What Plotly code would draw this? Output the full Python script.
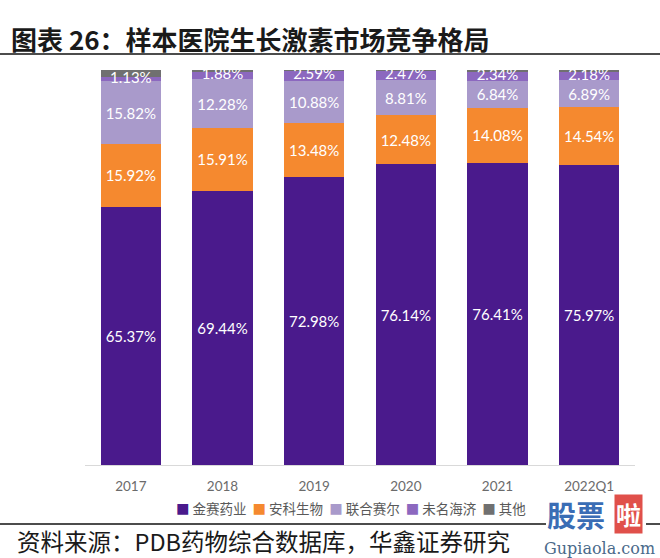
import plotly.graph_objects as go

years = ["2017", "2018", "2019", "2020", "2021", "2022Q1"]
jinsai = [65.37, 69.44, 72.98, 76.14, 76.41, 75.97]
anke = [15.92, 15.91, 13.48, 12.48, 14.08, 14.54]
lianhe = [15.82, 12.28, 10.88, 8.81, 6.84, 6.89]
weiming = [1.13, 1.88, 2.59, 2.47, 2.34, 2.18]
qita = [1.76, 0.49, 0.07, 0.10, 0.33, 0.42]

series = [
    ("金赛药业", jinsai, "#4A1A8C", True),
    ("安科生物", anke, "#F5892F", True),
    ("联合赛尔", lianhe, "#A99ACB", True),
    ("未名海济", weiming, "#8C68BF", False),
    ("其他", qita, "#707070", False),
]

L, R, T, B = 85, 25, 70, 93
W, H = 660, 558
PW, PH = W - L - R, H - T - B


def px(x):
    return (x - L) / PW


def py(y):
    return (H - B - y) / PH


label_font = dict(color="white", size=15, family="Lato, Open Sans, sans-serif")

fig = go.Figure()
for name, vals, color, show_text in series:
    fig.add_trace(go.Bar(
        name=name, x=years, y=vals, marker=dict(color=color, line=dict(width=0)),
        text=[f"{v:.2f}%" for v in vals] if show_text else None,
        textposition="inside" if show_text else "none",
        insidetextanchor="middle",
        constraintext="none",
        textangle=0,
        textfont=label_font,
        hoverinfo="skip",
    ))

# Labels of the thin 未名海济 segments, drawn on top of everything
wm_mid = [a + b + c + d / 2 for a, b, c, d in zip(jinsai, anke, lianhe, weiming)]
fig.add_trace(go.Scatter(
    x=years, y=wm_mid, mode="text", text=[f"{v:.2f}%" for v in weiming],
    textfont=label_font, textposition="middle center", cliponaxis=False,
    hoverinfo="skip", showlegend=False,
))

fig.update_layout(
    barmode="stack",
    bargap=0.345,
    width=W, height=H,
    margin=dict(l=L, r=R, t=T, b=B),
    paper_bgcolor="white", plot_bgcolor="white",
    showlegend=False,
    xaxis=dict(
        showgrid=False, showline=True, linecolor="#D9D9D9", linewidth=1,
        ticks="", tickfont=dict(size=13.5, color="#6b6b6b", family="Lato, Open Sans, sans-serif"),
        ticklabelstandoff=9, range=[-0.5, 5.5],
    ),
    yaxis=dict(range=[0, 100], visible=False, showgrid=False),
)

# Legend (colored squares + names), built from the series list
legend_text = "  ".join(
    f"<span style='color:{c}'>■</span> {n}" for n, _, c, _ in series
)
fig.add_annotation(
    text=legend_text, xref="paper", yref="paper", x=px(351), y=py(508),
    xanchor="center", yanchor="middle", showarrow=False,
    font=dict(size=13.5, color="#595959", family="Noto Sans CJK SC"),
)

# Title and rules
fig.add_annotation(
    text="<b>图表 26：样本医院生长激素市场竞争格局</b>", xref="paper", yref="paper",
    x=px(9), y=py(38), xanchor="left", yanchor="middle", showarrow=False,
    font=dict(size=26, color="#1a1a1a", family="Noto Sans CJK SC"),
)
fig.add_shape(type="line", xref="paper", yref="paper", x0=px(0), x1=px(660),
              y0=py(54), y1=py(54), line=dict(color="#111111", width=1.5))
fig.add_shape(type="line", xref="paper", yref="paper", x0=px(0), x1=px(546),
              y0=py(524), y1=py(524), line=dict(color="#111111", width=1.5))
fig.add_shape(type="line", xref="paper", yref="paper", x0=px(646), x1=px(660),
              y0=py(524), y1=py(524), line=dict(color="#111111", width=1.5))
fig.add_annotation(
    text="资料来源：PDB药物综合数据库，华鑫证券研究", xref="paper", yref="paper",
    x=px(15), y=py(541), xanchor="left", yanchor="middle", showarrow=False,
    font=dict(size=23.5, color="#1a1a1a", family="Noto Sans CJK SC"),
)

# Watermark
fig.add_annotation(
    text="<b>股票</b>", xref="paper", yref="paper", x=px(576), y=py(514),
    xanchor="center", yanchor="middle", showarrow=False,
    font=dict(size=29, color="#3A6DB5", family="Noto Sans CJK SC"),
    borderpad=0,
)
fig.add_annotation(
    text="<b>啦</b>", xref="paper", yref="paper", x=px(628), y=py(514),
    xanchor="center", yanchor="middle", showarrow=False, bgcolor="#E0504A",
    font=dict(size=25, color="white", family="Noto Sans CJK SC"),
    borderpad=1,
)
fig.add_annotation(
    text="Gupiaola.com", xref="paper", yref="paper", x=px(599), y=py(548),
    xanchor="center", yanchor="middle", showarrow=False,
    font=dict(size=16, color="#4A6A8A", family="DejaVu Serif"),
)

fig.write_html("out.html", config={"displayModeBar": False},
               post_script="document.body.style.margin='0';")
